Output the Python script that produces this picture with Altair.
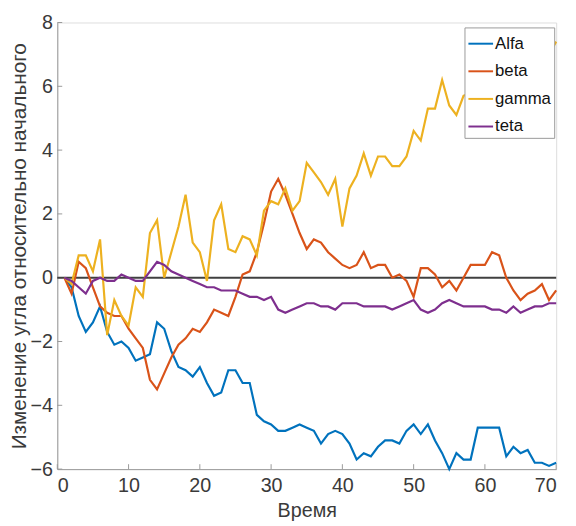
import altair as alt
import pandas as pd

time = list(range(1, 71))
alfa = [0, -0.3, -1.2, -1.7, -1.4, -0.9, -1.7, -2.1, -2.0, -2.2,
        -2.6, -2.5, -2.4, -1.4, -1.6, -2.3, -2.8, -2.9, -3.1, -2.8,
        -3.3, -3.7, -3.6, -2.9, -2.9, -3.3, -3.3, -4.3, -4.5, -4.6,
        -4.8, -4.8, -4.7, -4.6, -4.7, -4.8, -5.2, -4.9, -4.8, -4.9,
        -5.2, -5.7, -5.5, -5.6, -5.3, -5.1, -5.1, -5.2, -4.8, -4.6,
        -4.9, -4.6, -5.1, -5.5, -6.0, -5.5, -5.7, -5.7, -4.7, -4.7,
        -4.7, -4.7, -5.6, -5.3, -5.5, -5.4, -5.8, -5.8, -5.9, -5.8]
beta = [0, -0.5, 0.5, 0.3, -0.3, -0.9, -1.1, -1.2, -1.2, -1.6,
        -1.9, -2.2, -3.2, -3.5, -3.0, -2.5, -2.1, -1.9, -1.6, -1.7,
        -1.4, -1.0, -1.1, -1.2, -0.6, 0.1, 0.2, 0.8, 1.7, 2.7,
        3.1, 2.6, 2.0, 1.4, 0.9, 1.2, 1.1, 0.8, 0.6, 0.4,
        0.3, 0.4, 0.8, 0.3, 0.4, 0.4, 0.0, 0.1, -0.1, -0.6,
        0.3, 0.3, 0.1, -0.3, -0.1, -0.4, 0.0, 0.4, 0.4, 0.4,
        0.8, 0.7, 0.0, -0.4, -0.7, -0.5, -0.4, -0.2, -0.7, -0.4]
gamma = [0, -0.2, 0.7, 0.7, 0.2, 1.2, -1.8, -0.7, -1.2, -1.5,
         -0.3, -0.6, 1.4, 1.8, 0.0, 0.8, 1.6, 2.6, 1.1, 0.8,
         -0.1, 1.8, 2.3, 0.9, 0.8, 1.3, 1.2, 0.7, 2.1, 2.4,
         2.3, 2.8, 2.1, 2.4, 3.6, 3.3, 3.0, 2.6, 3.1, 1.6,
         2.8, 3.2, 3.9, 3.2, 3.8, 3.8, 3.5, 3.5, 3.8, 4.6,
         4.3, 5.3, 5.3, 6.2, 5.4, 5.1, 5.7, 5.8, 6.0, 6.3,
         6.1, 6.5, 6.4, 6.8, 6.6, 6.9, 7.0, 6.8, 7.0, 7.4]
teta = [0, -0.1, -0.3, -0.5, -0.1, 0.0, -0.1, -0.1, 0.1, 0.0,
        -0.1, -0.1, 0.2, 0.5, 0.4, 0.2, 0.1, 0.0, -0.1, -0.2,
        -0.3, -0.3, -0.4, -0.4, -0.4, -0.5, -0.6, -0.6, -0.7, -0.6,
        -1.0, -1.1, -1.0, -0.9, -0.8, -0.8, -0.9, -0.9, -1.0, -0.8,
        -0.8, -0.8, -0.9, -0.9, -0.9, -0.9, -1.0, -0.9, -0.8, -0.7,
        -1.0, -1.1, -1.0, -0.8, -0.7, -0.8, -0.9, -0.9, -0.9, -0.9,
        -1.0, -1.0, -1.1, -0.9, -1.1, -1.0, -0.9, -0.9, -0.8, -0.8]

series_names = ["Alfa", "beta", "gamma", "teta"]
series_colors = ["#0072BD", "#D95319", "#EDB120", "#7E2F8E"]
x_ticks = [0, 10, 20, 30, 40, 50, 60, 70]
y_ticks = [-6, -4, -2, 0, 2, 4, 6, 8]

rows = []
for name, vals in zip(series_names, [alfa, beta, gamma, teta]):
    for t, v in zip(time, vals):
        rows.append({"t": t, "v": v, "series": name})
df = pd.DataFrame(rows)

W, H = 506, 453
xs = alt.Scale(domain=[0, 70], nice=False, zero=False)
ys = alt.Scale(domain=[-6, 8], nice=False, zero=False)

font = "Liberation Sans"
common = dict(grid=False, tickSize=0, labelFontSize=20,
              domainColor="#999999", labelColor="#3a3a3a", titleColor="#3a3a3a",
              titleFontWeight="normal", labelFont=font, titleFont=font)
lines = alt.Chart(df).mark_line(strokeWidth=2.2).encode(
    x=alt.X("t:Q", scale=xs, title="Время",
            axis=alt.Axis(values=x_ticks, labelPadding=7, titlePadding=5,
                          titleFontSize=20, **common)),
    y=alt.Y("v:Q", scale=ys, title="Изменение угла относительно начального",
            axis=alt.Axis(values=y_ticks, labelPadding=5, titlePadding=0,
                          titleFontSize=21, **common)),
    color=alt.Color("series:N", scale=alt.Scale(domain=series_names, range=series_colors),
                    legend=alt.Legend(title=None, orient="none", legendX=413, legendY=5,
                                      symbolType="stroke", symbolSize=625, symbolStrokeWidth=2,
                                      labelFontSize=17, labelFont=font, labelColor="#111111",
                                      fillColor="white", strokeColor="#999999",
                                      padding=3, rowPadding=6, labelOffset=1)),
)

zero_df = pd.DataFrame({"v": [0]})
zero = alt.Chart(zero_df).mark_rule(color="#404040", strokeWidth=2).encode(
    y=alt.Y("v:Q", scale=ys), x=alt.value(0), x2=alt.value(W))

xt = pd.DataFrame({"t": x_ticks})
xtick = alt.Chart(xt).mark_rule(color="#999999", strokeWidth=1).encode(
    x=alt.X("t:Q", scale=xs), y=alt.value(H), y2=alt.value(H - 5))
yt = pd.DataFrame({"v": y_ticks})
ytick = alt.Chart(yt).mark_rule(color="#999999", strokeWidth=1).encode(
    y=alt.Y("v:Q", scale=ys), x=alt.value(0), x2=alt.value(5))

chart = alt.layer(xtick, ytick, zero, lines).properties(
    width=W, height=H,
    autosize=alt.AutoSizeParams(type="none"),
    padding={"left": 50, "top": 11, "right": 12, "bottom": 55},
).configure_view(stroke=None).configure(background="white")

chart.save("out.html", embed_options={"renderer": "svg", "actions": False})
